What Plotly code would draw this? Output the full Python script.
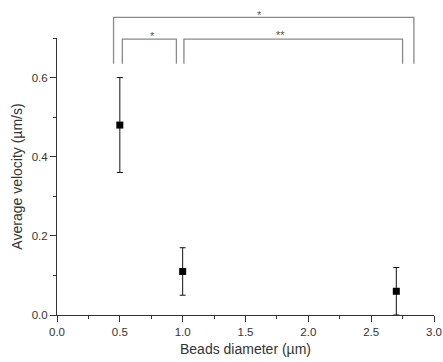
import plotly.graph_objects as go

# Data
diameters = [0.5, 1.0, 2.7]
velocities = [0.48, 0.11, 0.06]
errors = [0.12, 0.06, 0.06]

x_ticks = [0.0, 0.5, 1.0, 1.5, 2.0, 2.5, 3.0]
y_ticks = [0.0, 0.2, 0.4, 0.6]

# Significance brackets
brackets_x0 = [0.45, 0.52, 1.01]
brackets_x1 = [2.84, 0.95, 2.75]
brackets_top = [0.752, 0.697, 0.697]
brackets_bottom = [0.635, 0.635, 0.635]
bracket_labels = ["*", "*", "**"]
label_x = [1.615, 0.76, 1.78]
label_y = [0.758, 0.705, 0.708]

Y_MAX = 0.7

fig = go.Figure()
fig.add_trace(go.Scatter(
    x=diameters, y=velocities, mode="markers",
    marker=dict(symbol="square", size=7, color="black"),
    error_y=dict(type="data", array=errors, visible=True, color="#111", thickness=1, width=3),
    showlegend=False,
))

for x0, x1, yt, yb in zip(brackets_x0, brackets_x1, brackets_top, brackets_bottom):
    fig.add_shape(type="path",
                  path=f"M {x0} {yb/Y_MAX} L {x0} {yt/Y_MAX} L {x1} {yt/Y_MAX} L {x1} {yb/Y_MAX}",
                  xref="x", yref="paper",
                  line=dict(color="#8a8a8a", width=1.3))

for lab, lx, ly in zip(bracket_labels, label_x, label_y):
    fig.add_annotation(x=lx, y=ly / Y_MAX, xref="x", yref="paper", text=lab,
                       showarrow=False, font=dict(size=11, color="#555"),
                       yanchor="middle")

FONT = "Arial, Liberation Sans, sans-serif"
axis_common = dict(
    showline=True, linecolor="#333", linewidth=1,
    ticks="outside", ticklen=6, tickcolor="#333", tickwidth=1,
    showgrid=False, zeroline=False, automargin=False,
    tickfont=dict(family=FONT, size=11.5, color="#333"),
)

fig.update_layout(
    width=443, height=362,
    margin=dict(l=57, r=9, t=38, b=47, autoexpand=False),
    plot_bgcolor="white", paper_bgcolor="white",
    font=dict(family=FONT, color="#333"),
    xaxis=dict(range=[0, 3.0], tickvals=x_ticks, ticktext=[f"{v:.1f}" for v in x_ticks],
               minor=dict(ticks="outside", ticklen=3, tickcolor="#333", dtick=0.25, tick0=0),
               title=dict(text="Beads diameter (µm)", font=dict(family=FONT, size=14, color="#333"), standoff=7),
               **axis_common),
    yaxis=dict(range=[0, Y_MAX], tickvals=y_ticks, ticktext=[f"{v:.1f}" for v in y_ticks],
               minor=dict(ticks="outside", ticklen=3, tickcolor="#333", dtick=0.1, tick0=0),
               title=dict(text="Average velocity (µm/s)", font=dict(family=FONT, size=14, color="#333"), standoff=5),
               **axis_common),
)

fig.write_html(
    "out.html",
    config={"displayModeBar": False},
    post_script="document.body.style.margin='0';document.body.style.overflow='hidden';",
)
